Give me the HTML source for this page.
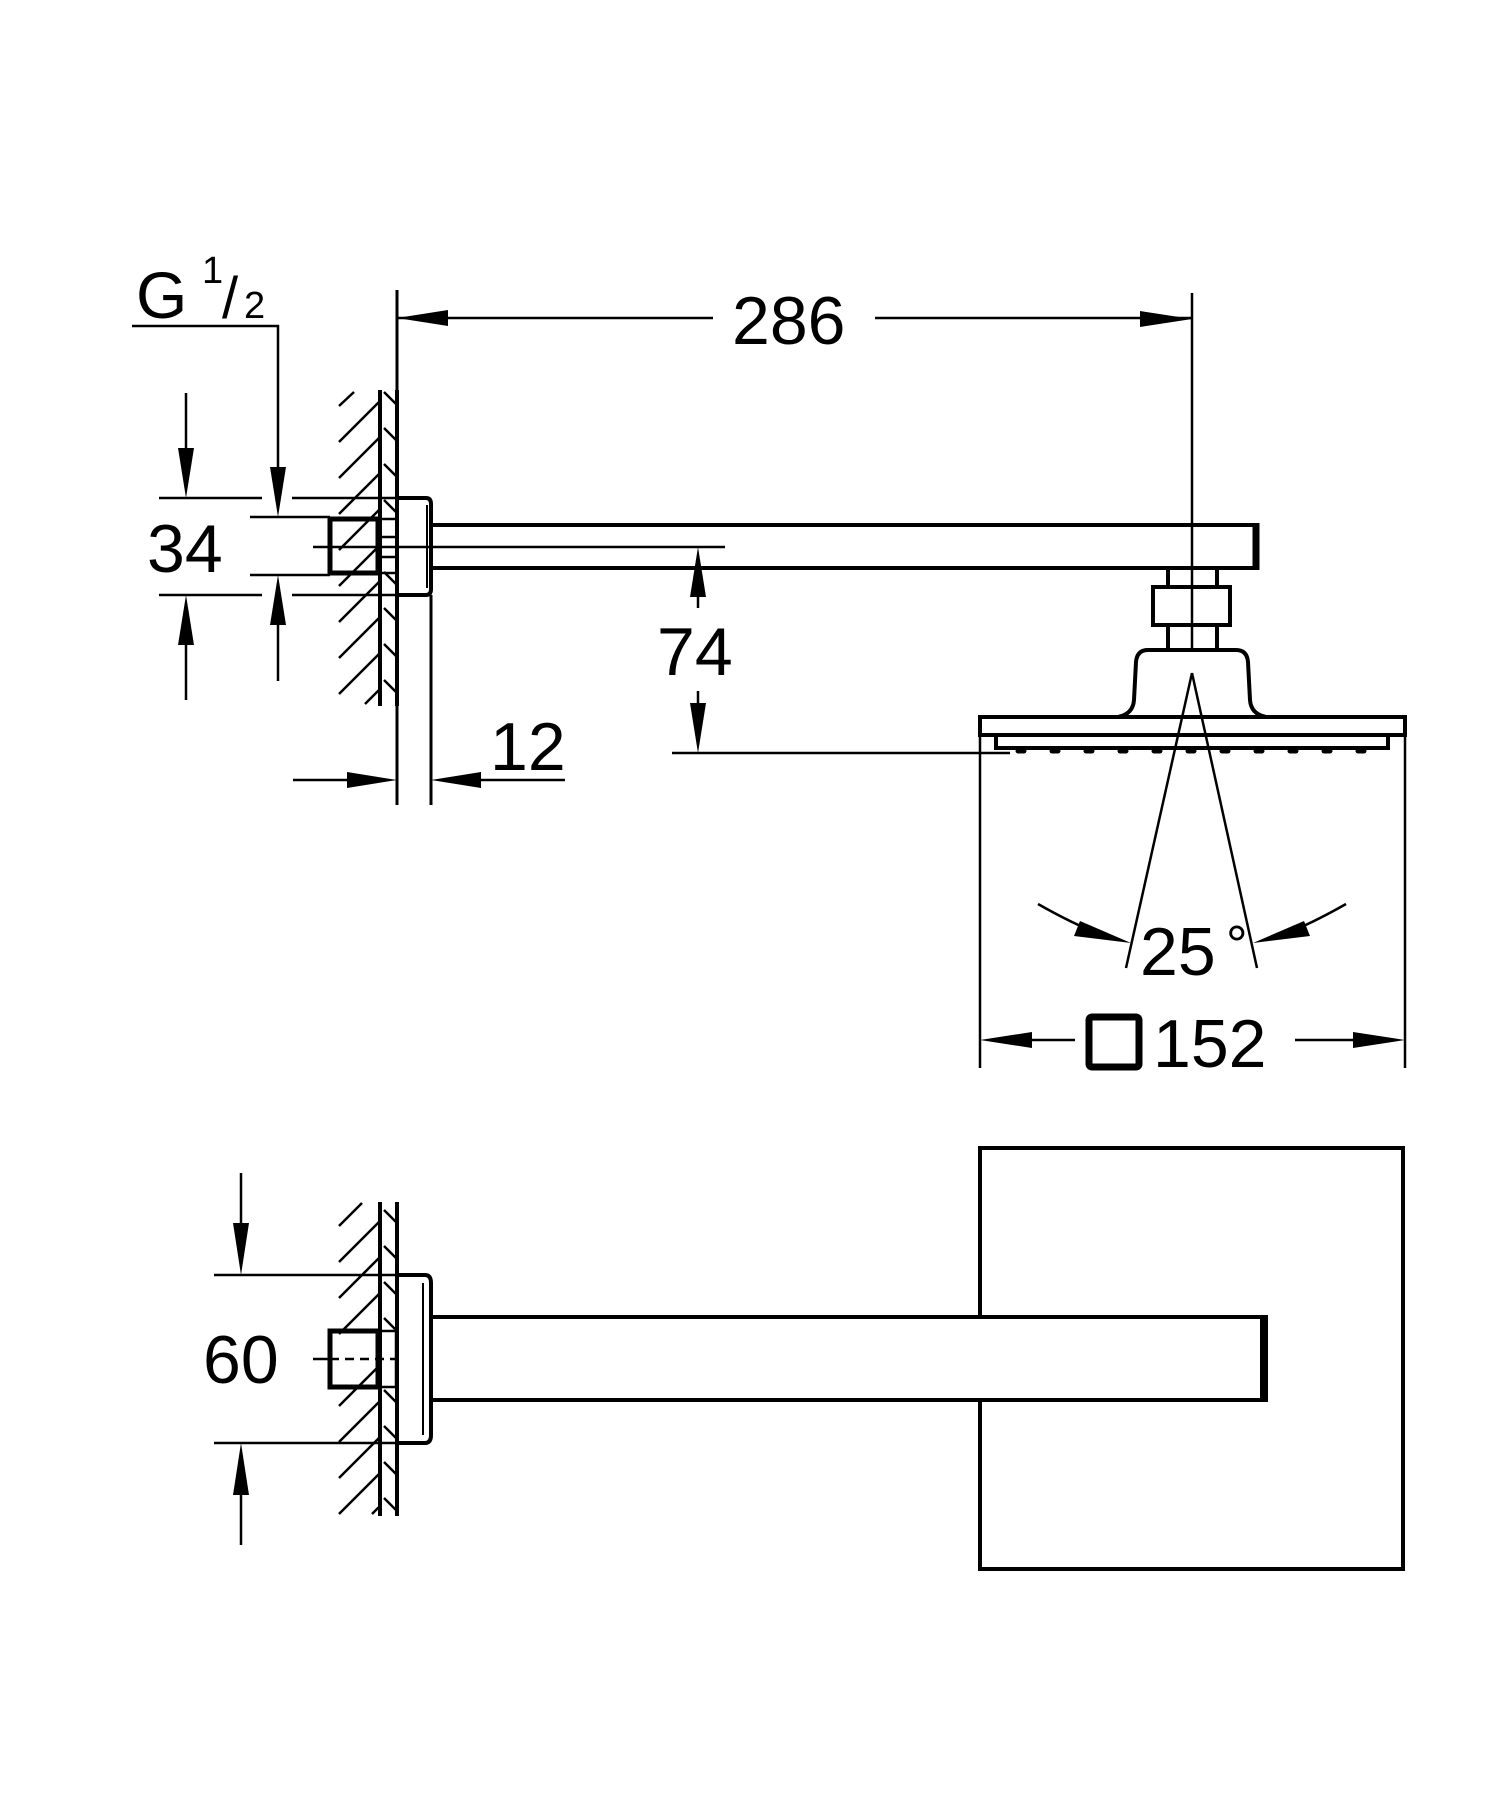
<!DOCTYPE html>
<html><head><meta charset="utf-8"><style>
html,body{margin:0;padding:0;background:#fff}
svg{display:block}
text{font-family:"Liberation Sans",Arial,sans-serif;fill:#000}
</style></head><body>
<svg width="1500" height="1798" viewBox="0 0 1500 1798" xmlns="http://www.w3.org/2000/svg">
<g stroke="#000" fill="none" stroke-linecap="butt">
<line x1="397" y1="290" x2="397" y2="805" stroke-width="3"/>
<line x1="1192" y1="293" x2="1192" y2="650" stroke-width="2.5"/>
<line x1="397" y1="318" x2="713" y2="318" stroke-width="2.5"/>
<line x1="875" y1="318" x2="1192" y2="318" stroke-width="2.5"/>
<polyline points="132,326 278,326 278,470" stroke-width="2.5"/>
<line x1="380" y1="390" x2="380" y2="706" stroke-width="4"/>
<line x1="397" y1="390" x2="397" y2="706" stroke-width="4"/>
<g stroke-width="2.5">
<line x1="339" y1="406" x2="354" y2="392"/>
<line x1="339" y1="442" x2="380" y2="401"/>
<line x1="339" y1="478" x2="380" y2="437"/>
<line x1="339" y1="514" x2="380" y2="473"/>
<line x1="339" y1="550" x2="380" y2="509"/>
<line x1="339" y1="586" x2="380" y2="545"/>
<line x1="339" y1="622" x2="380" y2="581"/>
<line x1="339" y1="658" x2="380" y2="617"/>
<line x1="339" y1="694" x2="380" y2="653"/>
<line x1="365" y1="704" x2="380" y2="689"/>
<line x1="384" y1="392" x2="397" y2="405"/>
<line x1="384" y1="428" x2="397" y2="441"/>
<line x1="384" y1="464" x2="397" y2="477"/>
<line x1="384" y1="500" x2="397" y2="513"/>
<line x1="384" y1="572" x2="397" y2="585"/>
<line x1="384" y1="608" x2="397" y2="621"/>
<line x1="384" y1="644" x2="397" y2="657"/>
<line x1="384" y1="680" x2="397" y2="693"/>
</g>
<line x1="159" y1="498" x2="262" y2="498" stroke-width="2.5"/>
<line x1="292" y1="498" x2="400" y2="498" stroke-width="2.5"/>
<line x1="159" y1="595" x2="262" y2="595" stroke-width="2.5"/>
<line x1="292" y1="595" x2="400" y2="595" stroke-width="2.5"/>
<line x1="250" y1="517" x2="330" y2="517" stroke-width="2.5"/>
<line x1="250" y1="575" x2="330" y2="575" stroke-width="2.5"/>
<line x1="186" y1="393" x2="186" y2="450" stroke-width="2.5"/>
<line x1="186" y1="640" x2="186" y2="700" stroke-width="2.5"/>
<line x1="278" y1="620" x2="278" y2="681" stroke-width="2.5"/>
<rect x="330" y="519" width="48" height="54" stroke-width="5"/>
<rect x="380" y="519" width="17" height="54" stroke-width="2.5"/>
<line x1="380" y1="537" x2="397" y2="537" stroke-width="2.5"/>
<line x1="380" y1="557" x2="397" y2="557" stroke-width="2.5"/>
<path d="M397 498 H426 Q431 498 431 504 V589 Q431 595 426 595 H397" stroke-width="4"/>
<line x1="427" y1="505" x2="427" y2="588" stroke-width="2"/>
<line x1="431" y1="525" x2="1259" y2="525" stroke-width="4"/>
<line x1="431" y1="568" x2="1259" y2="568" stroke-width="4"/>
<line x1="1256" y1="523" x2="1256" y2="570" stroke-width="7"/>
<line x1="313" y1="547" x2="725" y2="547" stroke-width="2.5"/>
<line x1="698" y1="560" x2="698" y2="608" stroke-width="2.5"/>
<line x1="698" y1="691" x2="698" y2="740" stroke-width="2.5"/>
<line x1="672" y1="753" x2="1010" y2="753" stroke-width="2.5"/>
<line x1="431" y1="595" x2="431" y2="805" stroke-width="3"/>
<line x1="293" y1="780" x2="360" y2="780" stroke-width="2.5"/>
<line x1="470" y1="780" x2="565" y2="780" stroke-width="2.5"/>
<rect x="1168" y="568" width="49" height="19" stroke-width="4"/>
<rect x="1153" y="587" width="77" height="38" stroke-width="4"/>
<rect x="1168" y="625" width="49" height="25" stroke-width="4"/>
<path d="M1118 717 Q1133 714 1134 700 L1136 662 Q1137 650 1148 650 L1236 650 Q1247 650 1248 662 L1250 700 Q1251 714 1266 717" stroke-width="4"/>
<rect x="980" y="717" width="425" height="18" stroke-width="4"/>
<rect x="996" y="735" width="392" height="13" stroke-width="4"/>
<g stroke-width="5" stroke-linecap="round">
<line x1="1018" y1="751" x2="1024" y2="751"/><line x1="1052" y1="751" x2="1058" y2="751"/>
<line x1="1086" y1="751" x2="1092" y2="751"/><line x1="1120" y1="751" x2="1126" y2="751"/>
<line x1="1154" y1="751" x2="1160" y2="751"/><line x1="1188" y1="751" x2="1194" y2="751"/>
<line x1="1222" y1="751" x2="1228" y2="751"/><line x1="1256" y1="751" x2="1262" y2="751"/>
<line x1="1290" y1="751" x2="1296" y2="751"/><line x1="1324" y1="751" x2="1330" y2="751"/>
<line x1="1358" y1="751" x2="1364" y2="751"/>
</g>
<line x1="1192" y1="673" x2="1126" y2="968" stroke-width="2.5"/>
<line x1="1192" y1="673" x2="1257" y2="968" stroke-width="2.5"/>
<path d="M1038 904 Q1075 925 1100 934" stroke-width="2.5"/>
<path d="M1346 904 Q1309 925 1284 934" stroke-width="2.5"/>
<line x1="980" y1="735" x2="980" y2="1068" stroke-width="2.5"/>
<line x1="1405" y1="735" x2="1405" y2="1068" stroke-width="2.5"/>
<line x1="1025" y1="1040" x2="1075" y2="1040" stroke-width="2.5"/>
<line x1="1295" y1="1040" x2="1360" y2="1040" stroke-width="2.5"/>
<rect x="1089" y="1017" width="50" height="50" rx="3" stroke-width="7"/>

<line x1="380" y1="1202" x2="380" y2="1516" stroke-width="4"/>
<line x1="397" y1="1202" x2="397" y2="1516" stroke-width="4"/>
<g stroke-width="2.5">
<line x1="339" y1="1226" x2="362" y2="1203"/>
<line x1="339" y1="1262" x2="380" y2="1221"/>
<line x1="339" y1="1298" x2="380" y2="1257"/>
<line x1="339" y1="1334" x2="380" y2="1293"/>
<line x1="339" y1="1406" x2="380" y2="1365"/>
<line x1="339" y1="1442" x2="380" y2="1401"/>
<line x1="339" y1="1478" x2="380" y2="1437"/>
<line x1="339" y1="1514" x2="380" y2="1473"/>
<line x1="372" y1="1514" x2="380" y2="1506"/>
<line x1="384" y1="1210" x2="397" y2="1223"/>
<line x1="384" y1="1246" x2="397" y2="1259"/>
<line x1="384" y1="1282" x2="397" y2="1295"/>
<line x1="384" y1="1318" x2="397" y2="1331"/>
<line x1="384" y1="1390" x2="397" y2="1403"/>
<line x1="384" y1="1426" x2="397" y2="1439"/>
<line x1="384" y1="1462" x2="397" y2="1475"/>
<line x1="384" y1="1498" x2="397" y2="1511"/>
</g>
<line x1="214" y1="1275" x2="400" y2="1275" stroke-width="2.5"/>
<line x1="214" y1="1443" x2="400" y2="1443" stroke-width="2.5"/>
<line x1="241" y1="1173" x2="241" y2="1225" stroke-width="2.5"/>
<line x1="241" y1="1493" x2="241" y2="1545" stroke-width="2.5"/>
<rect x="330" y="1331" width="48" height="56" stroke-width="5"/>
<rect x="380" y="1331" width="16" height="56" stroke-width="2.5"/>
<line x1="313" y1="1359" x2="330" y2="1359" stroke-width="2.5"/>
<line x1="330" y1="1359" x2="396" y2="1359" stroke-width="2.5" stroke-dasharray="9,6"/>
<path d="M397 1275 H425 Q431 1275 431 1283 V1435 Q431 1443 425 1443 H397" stroke-width="4"/>
<line x1="423" y1="1283" x2="423" y2="1435" stroke-width="2"/>
<line x1="431" y1="1317" x2="1268" y2="1317" stroke-width="4"/>
<line x1="431" y1="1400" x2="1268" y2="1400" stroke-width="4"/>
<line x1="1264" y1="1315" x2="1264" y2="1402" stroke-width="8"/>
<polyline points="980,1317 980,1148 1403,1148 1403,1569 980,1569 980,1400" stroke-width="4"/>
</g>

<g fill="#000" stroke="none">
<polygon points="397,318 448,310 448,326"/>
<polygon points="1192,319 1140,311 1140,327"/>
<polygon points="278,517 270,467 286,467"/>
<polygon points="186,498 178,448 194,448"/>
<polygon points="186,595 178,645 194,645"/>
<polygon points="278,575 270,625 286,625"/>
<polygon points="397,780 347,772 347,788"/>
<polygon points="431,780 481,772 481,788"/>
<polygon points="698,547 690,597 706,597"/>
<polygon points="698,753 690,703 706,703"/>
<polygon points="1131,943 1080,921 1074,936"/>
<polygon points="1253,943 1304,921 1310,936"/>
<polygon points="980,1040 1032,1032 1032,1048"/>
<polygon points="1405,1040 1353,1032 1353,1048"/>
<polygon points="241,1275 233,1223 249,1223"/>
<polygon points="241,1443 233,1495 249,1495"/>
</g>

<text x="136" y="318" font-size="66">G</text>
<text x="202" y="283" font-size="38">1</text>
<text x="222" y="318" font-size="58">/</text>
<text x="244" y="318" font-size="38">2</text>
<text x="732" y="344" font-size="68">286</text>
<text x="147" y="572" font-size="68">34</text>
<text x="657" y="675" font-size="68">74</text>
<text x="490" y="770" font-size="68">12</text>
<text x="1140" y="975" font-size="68">25</text>
<text x="1226" y="963" font-size="54">°</text>
<text x="1153" y="1067" font-size="68">152</text>
<text x="203" y="1383" font-size="68">60</text>
</svg>
</body></html>
